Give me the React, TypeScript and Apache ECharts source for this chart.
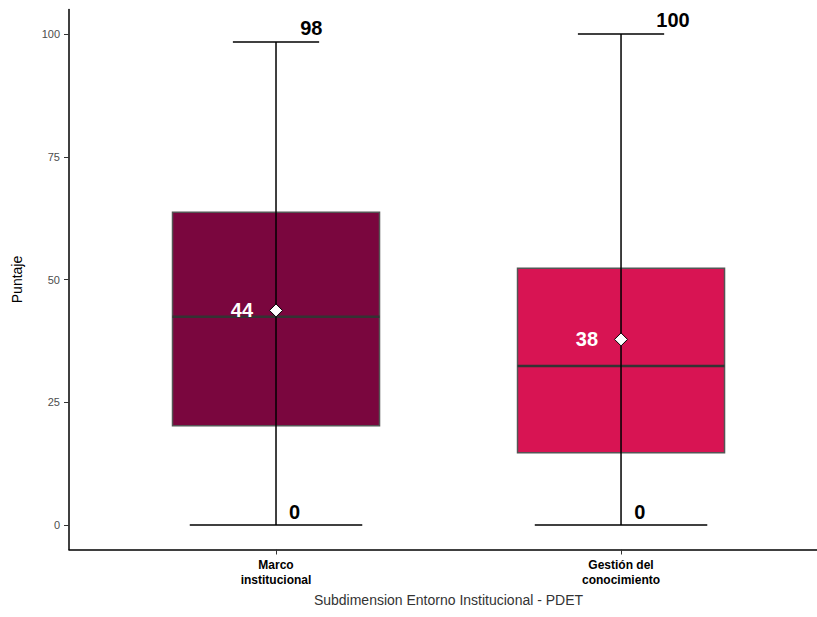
import React, { useEffect, useRef } from "react";
import * as echarts from "echarts";

const categories = ["Marco\ninstitucional", "Gestión del\nconocimiento"];
const positions = [1, 2];
const minValues = [0, 0];
const q1Values = [20.2, 14.7];
const medianValues = [42.4, 32.4];
const q3Values = [63.7, 52.3];
const maxValues = [98.4, 100];
const meanValues = [43.7, 37.8];
const boxColors = ["#7A063E", "#D81453"];
const yTicks = [0, 25, 50, 75, 100];

const FONT = "Liberation Sans, Arial, sans-serif";

export default function App() {
  const ref = useRef<HTMLDivElement>(null);
  useEffect(() => {
    if (!ref.current) return;
    const chart = echarts.init(ref.current, null, { renderer: "svg" });
    const data = positions.map((p, i) => [
      p,
      minValues[i],
      q1Values[i],
      medianValues[i],
      q3Values[i],
      maxValues[i],
      meanValues[i],
    ]);
    const digitW = 11.1;
    const renderItem = (params: any, api: any) => {
      const i = params.dataIndex;
      const x = api.value(0);
      const cx = api.coord([x, 0])[0];
      const unit = api.size([1, 0])[0];
      const yMin = api.coord([x, api.value(1)])[1];
      const yQ1 = api.coord([x, api.value(2)])[1];
      const yMed = api.coord([x, api.value(3)])[1];
      const yQ3 = api.coord([x, api.value(4)])[1];
      const yMax = api.coord([x, api.value(5)])[1];
      const yMean = api.coord([x, api.value(6)])[1];
      const boxHalf = unit * 0.3;
      const topCap = unit * 0.125;
      const botCap = unit * 0.25;
      const d = 6.5;
      const maxTxt = String(Math.round(api.value(5)));
      const minTxt = String(Math.round(api.value(1)));
      const meanTxt = String(Math.round(api.value(6)));
      const bold = `bold 20px ${FONT}`;
      return {
        type: "group",
        children: [
          {
            type: "rect",
            shape: { x: cx - boxHalf, y: yQ3, width: boxHalf * 2, height: yQ1 - yQ3 },
            style: { fill: boxColors[i], stroke: "#555555", lineWidth: 1.5 },
          },
          {
            type: "line",
            shape: { x1: cx - boxHalf, y1: yMed, x2: cx + boxHalf, y2: yMed },
            style: { stroke: "#333333", lineWidth: 2.5 },
          },
          {
            type: "line",
            shape: { x1: cx, y1: yMax, x2: cx, y2: yMin },
            style: { stroke: "#000000", lineWidth: 1.5 },
          },
          {
            type: "line",
            shape: { x1: cx - topCap, y1: yMax, x2: cx + topCap, y2: yMax },
            style: { stroke: "#000000", lineWidth: 1.5 },
          },
          {
            type: "line",
            shape: { x1: cx - botCap, y1: yMin, x2: cx + botCap, y2: yMin },
            style: { stroke: "#000000", lineWidth: 1.5 },
          },
          {
            type: "polygon",
            shape: {
              points: [
                [cx, yMean - d],
                [cx + d, yMean],
                [cx, yMean + d],
                [cx - d, yMean],
              ],
            },
            style: { fill: "#ffffff", stroke: "#000000", lineWidth: 1 },
          },
          {
            type: "text",
            x: cx - 23,
            y: yMean,
            style: {
              text: meanTxt,
              fill: "#ffffff",
              font: bold,
              align: "right",
              verticalAlign: "middle",
            },
          },
          {
            type: "text",
            x: cx + 2 + maxTxt.length * digitW,
            y: yMax - 14,
            style: {
              text: maxTxt,
              fill: "#000000",
              font: bold,
              align: "left",
              verticalAlign: "middle",
            },
          },
          {
            type: "text",
            x: cx + 2 + minTxt.length * digitW,
            y: yMin - 13,
            style: {
              text: minTxt,
              fill: "#000000",
              font: bold,
              align: "left",
              verticalAlign: "middle",
            },
          },
        ],
      };
    };
    chart.setOption({
      animation: false,
      backgroundColor: "#ffffff",
      grid: { left: 69, top: 9.5, width: 748, height: 540, containLabel: false },
      xAxis: {
        type: "value",
        min: 0.4,
        max: 2.568,
        name: "Subdimension Entorno Institucional - PDET",
        nameLocation: "middle",
        nameGap: 43,
        nameTextStyle: { fontSize: 14, color: "#333333", fontFamily: FONT, padding: [0, 0, 0, 11] },
        axisLine: { show: true, onZero: false, lineStyle: { color: "#000000", width: 1.5 } },
        axisTick: { show: true, length: 5, customValues: positions, lineStyle: { color: "#333333" } },
        axisLabel: {
          customValues: positions,
          formatter: (v: number) => categories[Math.round(v) - 1] ?? "",
          fontSize: 12,
          fontWeight: "bold",
          color: "#000000",
          lineHeight: 15,
          margin: 8,
          fontFamily: FONT,
        },
        splitLine: { show: false },
      },
      yAxis: {
        type: "value",
        min: -5,
        max: 105,
        name: "Puntaje",
        nameLocation: "middle",
        nameRotate: 90,
        nameGap: 45.5,
        nameTextStyle: { fontSize: 14, color: "#000000", fontFamily: FONT },
        axisLine: { show: true, onZero: false, lineStyle: { color: "#000000", width: 1.5 } },
        axisTick: { show: true, length: 5, customValues: yTicks, lineStyle: { color: "#333333" } },
        axisLabel: {
          customValues: yTicks,
          fontSize: 11,
          color: "#4d4d4d",
          margin: 9,
          fontFamily: FONT,
        },
        splitLine: { show: false },
      },
      series: [
        {
          type: "custom",
          renderItem,
          data,
          encode: { x: 0, y: [1, 2, 3, 4, 5, 6] },
          clip: false,
        },
      ],
    });
    return () => chart.dispose();
  }, []);
  return (
    <div
      ref={ref}
      style={{ position: "absolute", left: 0, top: 0, width: 817, height: 617, background: "#fff" }}
    />
  );
}
